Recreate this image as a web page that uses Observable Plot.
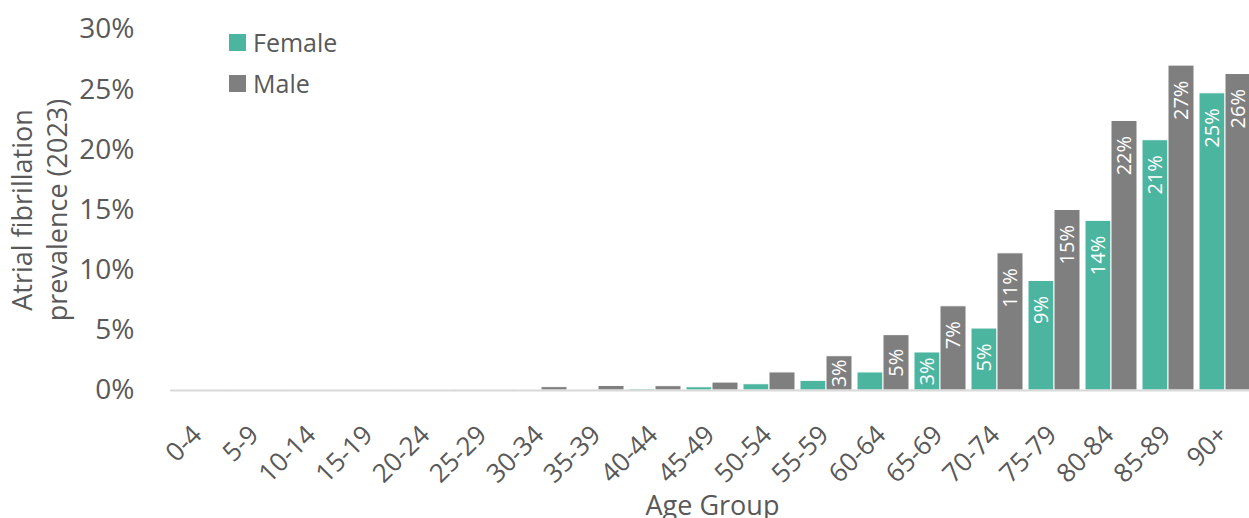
<!DOCTYPE html>
<html>
<head>
<meta charset="utf-8">
<script src="https://cdn.jsdelivr.net/npm/d3@7"></script>
<script src="https://cdn.jsdelivr.net/npm/@observablehq/plot@0.6"></script>
<style>
  html, body { margin: 0; padding: 0; background: #fff; }
  #wrap { position: relative; width: 1249px; height: 518px; overflow: hidden; font-family: "Open Sans", sans-serif; }
  #wrap > svg { display: block; }
  #key { position: absolute; left: 229px; top: 22px; }
  #key div { margin: 0 !important; padding: 0 !important; }
  #key .lg-swatch { height: 41px; line-height: 41px; display: flex; align-items: center;
    font-family: "Open Sans", sans-serif; font-size: 25px !important; color: #595959; }
  #key .lg-swatch svg { margin-right: 7px !important; }
</style>
</head>
<body>
<div id="wrap"><div id="key"></div></div>
<script>
// Age bands on the horizontal axis
const ages = ["0-4", "5-9", "10-14", "15-19", "20-24", "25-29", "30-34", "35-39", "40-44",
  "45-49", "50-54", "55-59", "60-64", "65-69", "70-74", "75-79", "80-84", "85-89", "90+"];

// Atrial fibrillation prevalence in 2023, percent of each age band
const female = [0, 0, 0, 0, 0, 0.07, 0, 0.02, 0.12, 0.27, 0.52, 0.8, 1.5, 3.16, 5.15, 9.1, 14.1, 20.8, 24.7];
const male = [0, 0, 0, 0, 0, 0.08, 0.28, 0.38, 0.36, 0.66, 1.5, 2.85, 4.6, 7.0, 11.4, 15.0, 22.4, 27.0, 26.3];

const sexes = ["Female", "Male"];
const colors = ["#4cb5a0", "#7f7f7f"];
const yTicks = [0, 5, 10, 15, 20, 25, 30];
const yTitle = "Atrial fibrillation\nprevalence (2023)";
const xTitle = "Age Group";

// Long-format rows for the grouped bars
const rows = ages.flatMap((age, i) => [
  {age, sex: "Female", value: female[i]},
  {age, sex: "Male", value: male[i]}
]);

const pct = d => `${Math.round(d.value)}%`;
const labelled = rows.filter(d => d.value >= 2.5);
const tall = labelled.filter(d => d.value >= 5);
const short = labelled.filter(d => d.value < 5);

const ink = "#595959";

const plot = Plot.plot({
  width: 1249,
  height: 518,
  marginLeft: 164,
  marginRight: -10,
  marginTop: 29,
  marginBottom: 128,
  style: {fontFamily: "Open Sans, sans-serif", color: ink, background: "#fff"},
  fx: {domain: ages, paddingInner: 0.09, paddingOuter: 0},
  x: {domain: sexes, padding: 0, axis: null},
  y: {domain: [0, 30]},
  color: {domain: sexes, range: colors},
  marks: [
    Plot.barY(rows, {fx: "age", x: "sex", y: "value", fill: "sex", stroke: "#fff", strokeWidth: 1}),
    // baseline, stretched across the small gaps between age groups
    Plot.ruleY([0], {stroke: "#d9d9d9", strokeWidth: 2, insetLeft: -2.8, insetRight: -2.8}),
    // value labels: near the top of tall bars, centred in short ones
    Plot.text(tall, {fx: "age", x: "sex", y: "value", text: pct, rotate: -90, textAnchor: "end",
      dy: 15, fill: "#fff", fontSize: 20}),
    Plot.text(short, {fx: "age", x: "sex", y: d => d.value / 2, text: pct, rotate: -90,
      textAnchor: "middle", fill: "#fff", fontSize: 20}),
    Plot.axisY({ticks: yTicks, tickFormat: d => `${d}%`, tickSize: 0, tickPadding: 39,
      fontSize: 28, label: null, fill: ink}),
    Plot.axisFx({anchor: "bottom", tickRotate: -45, tickSize: 0, tickPadding: 40, dx: -2,
      fontSize: 26, fill: ink, label: null}),
    Plot.text([xTitle], {facet: "super", frameAnchor: "bottom", dy: 124, fontSize: 27,
      fill: ink, text: d => d}),
    Plot.text([yTitle], {facet: "super", frameAnchor: "left", rotate: -90, textAnchor: "middle",
      dx: -135, lineHeight: 1.3, fontSize: 27, fill: ink, text: d => d})
  ]
});

const wrap = document.getElementById("wrap");
wrap.insertBefore(plot, wrap.firstChild);
document.getElementById("key").appendChild(
  plot.legend("color", {columns: 1, swatchSize: 17, className: "lg"})
);
</script>
</body>
</html>
